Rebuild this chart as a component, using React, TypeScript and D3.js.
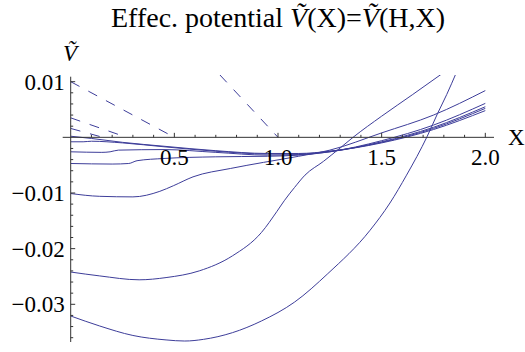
import React, { Component } from 'react';
import * as d3 from 'd3';

const width = 525,
      height = 352;

// solid curves, one per H value, [X, V]
const curveA = [[0, -0.0321], [0.14, -0.0339], [0.3, -0.0356], [0.46, -0.0364], [0.55, -0.0366],
                [0.64, -0.0363], [0.78, -0.0351], [0.92, -0.0330], [1.08, -0.0296], [1.24, -0.0245],
                [1.444, -0.0167], [1.54, -0.0118], [1.62, -0.0068], [1.72, 0.0002], [1.77, 0.0043],
                [1.814, 0.0077], [1.86, 0.0116]];
const curveB = [[0, -0.0242], [0.14, -0.0249], [0.33, -0.0256], [0.46, -0.0252], [0.62, -0.0240],
                [0.78, -0.0213], [0.92, -0.0171], [0.995, -0.0133], [1.03, -0.0114], [1.08, -0.0090],
                [1.13, -0.0068], [1.22, -0.0043], [1.3, -0.0019], [1.362, 0], [1.5, 0.0038],
                [1.65, 0.0077], [1.79, 0.0114]];
const curveC = [[0, -0.0101], [0.14, -0.0106], [0.3, -0.0107], [0.43, -0.0097], [0.495, -0.0087],
                [0.59, -0.0071], [0.77, -0.0056], [0.93, -0.0045], [1.1, -0.0034], [1.25, -0.0023],
                [1.5, 0.0008], [1.75, 0.0040], [2.0, 0.0084]];
const curveD = [[0, -0.0047], [0.2, -0.0048], [0.28, -0.0047], [0.32, -0.0042], [0.45, -0.0038],
                [0.7, -0.0035], [0.95, -0.0034], [1.1, -0.0032], [1.25, -0.0026], [1.5, -0.0006],
                [1.75, 0.0022], [2.0, 0.0061]];
const curveE = [[0, -0.0026], [0.15, -0.0027], [0.19, -0.0026], [0.23, -0.0023], [0.45, -0.0022],
                [0.7, -0.0027], [0.95, -0.0032], [1.1, -0.0031], [1.25, -0.0026], [1.5, -0.0008],
                [1.75, 0.0018], [2.0, 0.0055]];
const curveF = [[0, -0.0008], [0.06, -0.0008], [0.1, -0.0007], [0.25, -0.0010], [0.45, -0.0017],
                [0.7, -0.0025], [0.95, -0.0030], [1.1, -0.0030], [1.25, -0.0025], [1.5, -0.0009],
                [1.75, 0.0016], [2.0, 0.0052]];
const curveG = [[0, 0.0002], [0.1, -0.0002], [0.25, -0.0009], [0.45, -0.0016], [0.7, -0.0024],
                [0.95, -0.0029], [1.1, -0.0029], [1.25, -0.0025], [1.5, -0.0010], [1.75, 0.0014],
                [2.0, 0.0048]];

const curves = [curveA, curveB, curveC, curveD, curveE, curveF, curveG];

// dashed straight lines, [X1, V1, X2, V2]
const dashed = [[0, 0.0100, 0.5, 0],
                [0, 0.0035, 0.27, 0],
                [0, 0.0016, 0.155, 0],
                [0.72, 0.0112, 1.0, 0]];

const xTicks = [0.5, 1.0, 1.5, 2.0];
const yTicks = [0.01, -0.01, -0.02, -0.03];

const blue = '#3d3d99',
      axisColor = '#333';

const x = d3.scaleLinear().domain([0, 2]).range([70.7, 485.3]);
const y = d3.scaleLinear().domain([-0.0369, 0.0112]).range([342.7, 75]);

const line = d3.line()
               .x(d => x(d[0]))
               .y(d => y(d[1]))
               .curve(d3.curveMonotoneX);

const serif = '"Liberation Serif", "Times New Roman", "DejaVu Serif", serif';

class Chart extends Component {
  render() {
    const x0 = x(0), y0 = y(0);
    const minorX = d3.range(1, 21).map(i => i / 10).filter(v => Math.abs(v * 2 - Math.round(v * 2)) > 1e-6);
    const minorY = d3.range(-18, 6).map(i => i * 0.002).filter(v => Math.abs(v * 100 - Math.round(v * 100)) > 1e-6);

    return (
      <svg width={width} height={height} style={{position: 'absolute', left: 0, top: 0, background: 'white'}}
           fontFamily={serif}>
        <defs>
          <clipPath id="plot">
            <rect x={x0} y={y(0.0112)} width={x(2) - x0 + 1} height={y(-0.0369) - y(0.0112)} />
          </clipPath>
        </defs>

        <text x={278} y={27} fontSize={28} textAnchor="middle" fill="#000">
          Effec. potential <tspan fontStyle="italic">Ṽ</tspan>(X)=<tspan fontStyle="italic">Ṽ</tspan>(H,X)
        </text>

        <g clipPath="url(#plot)" fill="none" stroke={blue} strokeWidth={1}>
          {curves.map((c, i) => <path key={i} d={line(c)} />)}
          {dashed.map((d, i) =>
            <line key={i} x1={x(d[0])} y1={y(d[1])} x2={x(d[2])} y2={y(d[3])}
                  strokeDasharray="10,10" />)}
        </g>

        {/* axes */}
        <g stroke={axisColor} strokeWidth={1}>
          <line x1={62.7} x2={494} y1={y0} y2={y0} />
          <line x1={x0} x2={x0} y1={76.7} y2={342} />
          {xTicks.map(t => <line key={t} x1={x(t)} x2={x(t)} y1={y0} y2={y0 - 4.5} />)}
          {minorX.map(t => <line key={t} x1={x(t)} x2={x(t)} y1={y0} y2={y0 - 2.5} />)}
          {yTicks.map(t => <line key={t} x1={x0} x2={x0 + 4.5} y1={y(t)} y2={y(t)} />)}
          {minorY.map(t => <line key={t} x1={x0} x2={x0 + 2.5} y1={y(t)} y2={y(t)} />)}
        </g>

        <g fontSize={23} fill="#000">
          {xTicks.map(t =>
            <text key={t} x={x(t)} y={y0 + 28} textAnchor="middle">{t.toFixed(1)}</text>)}
          {yTicks.map(t =>
            <text key={t} x={x0 - 6} y={y(t) + 8} textAnchor="end">
              {(t < 0 ? '\u2212' : '') + Math.abs(t).toFixed(2)}
            </text>)}
          <text x={508} y={145}>X</text>
          <text x={70} y={61} fontStyle="italic" textAnchor="middle">Ṽ</text>
        </g>
      </svg>
    );
  }
}

export default function App() {
  return <Chart />;
}
